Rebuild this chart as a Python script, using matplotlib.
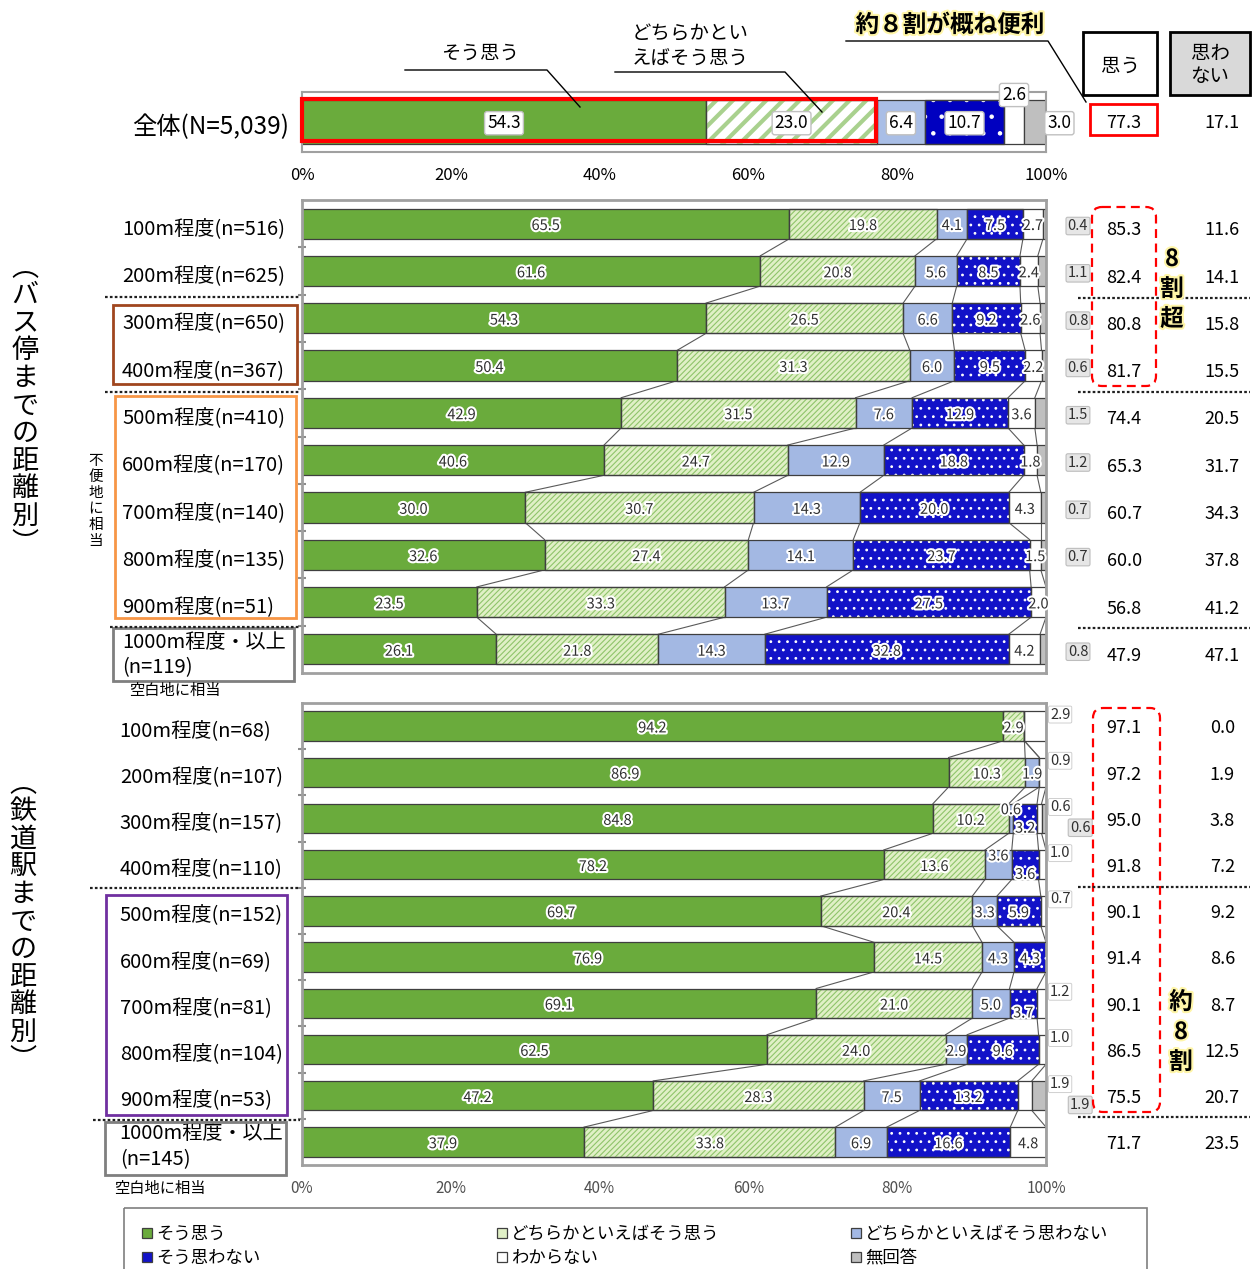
import matplotlib
matplotlib.use('Agg')
import matplotlib.pyplot as plt
import matplotlib.patheffects as pe
from matplotlib.patches import Rectangle, FancyBboxPatch
import numpy as np

plt.rcParams['font.family'] = ['Noto Sans CJK JP', 'DejaVu Sans']

# ---------------- data ----------------
series = ['そう思う', 'どちらかといえばそう思う', 'どちらかといえばそう思わない',
          'そう思わない', 'わからない', '無回答']

total_label = '全体(N=5,039)'
total_values = [54.3, 23.0, 6.4, 10.7, 2.6, 3.0]
total_agree = 77.3
total_disagree = 17.1

bus_labels = ['100m程度(n=516)', '200m程度(n=625)', '300m程度(n=650)', '400m程度(n=367)',
              '500m程度(n=410)', '600m程度(n=170)', '700m程度(n=140)', '800m程度(n=135)',
              '900m程度(n=51)', '1000m程度・以上\n(n=119)']
bus_agree = [65.5, 61.6, 54.3, 50.4, 42.9, 40.6, 30.0, 32.6, 23.5, 26.1]
bus_agree_weak = [19.8, 20.8, 26.5, 31.3, 31.5, 24.7, 30.7, 27.4, 33.3, 21.8]
bus_disagree_weak = [4.1, 5.6, 6.6, 6.0, 7.6, 12.9, 14.3, 14.1, 13.7, 14.3]
bus_disagree = [7.5, 8.5, 9.2, 9.5, 12.9, 18.8, 20.0, 23.7, 27.5, 32.8]
bus_unknown = [2.7, 2.4, 2.6, 2.2, 3.6, 1.8, 4.3, 1.5, 2.0, 4.2]
bus_noanswer = [0.4, 1.1, 0.8, 0.6, 1.5, 1.2, 0.7, 0.7, 0.0, 0.8]
bus_agree_total = [85.3, 82.4, 80.8, 81.7, 74.4, 65.3, 60.7, 60.0, 56.8, 47.9]
bus_disagree_total = [11.6, 14.1, 15.8, 15.5, 20.5, 31.7, 34.3, 37.8, 41.2, 47.1]

rail_labels = ['100m程度(n=68)', '200m程度(n=107)', '300m程度(n=157)', '400m程度(n=110)',
               '500m程度(n=152)', '600m程度(n=69)', '700m程度(n=81)', '800m程度(n=104)',
               '900m程度(n=53)', '1000m程度・以上\n(n=145)']
rail_agree = [94.2, 86.9, 84.8, 78.2, 69.7, 76.9, 69.1, 62.5, 47.2, 37.9]
rail_agree_weak = [2.9, 10.3, 10.2, 13.6, 20.4, 14.5, 21.0, 24.0, 28.3, 33.8]
rail_disagree_weak = [0.0, 1.9, 0.6, 3.6, 3.3, 4.3, 5.0, 2.9, 7.5, 6.9]
rail_disagree = [0.0, 0.0, 3.2, 3.6, 5.9, 4.3, 3.7, 9.6, 13.2, 16.6]
rail_unknown = [2.9, 0.9, 0.6, 1.0, 0.7, 0.0, 1.2, 1.0, 1.9, 4.8]
rail_noanswer = [0.0, 0.0, 0.6, 0.0, 0.0, 0.0, 0.0, 0.0, 1.9, 0.0]
rail_agree_total = [97.1, 97.2, 95.0, 91.8, 90.1, 91.4, 90.1, 86.5, 75.5, 71.7]
rail_disagree_total = [0.0, 1.9, 3.8, 7.2, 9.2, 8.6, 8.7, 12.5, 20.7, 23.5]

xticks = [0, 20, 40, 60, 80, 100]
xticklabels = ['0%', '20%', '40%', '60%', '80%', '100%']

# ---------------- style ----------------
FACE = ['#6AAB3C', '#E0F0C6', '#A3B8E3', '#1212C8', '#FFFFFF', '#BFBFBF']
HATCH = [None, '//////', None, '..', None, None]
HATCHCOL = [None, '#8FC46A', None, '#FFFFFF', None, None]
HATCHLW = [0.8, 0.8, 0.8, 0.8, 0.8, 0.8]
EDGE = '#3F3F3F'
CONN = '#5A5A5A'
W, H = 1252, 1269

fig = plt.figure(figsize=(W / 100, H / 100), dpi=100)


def axrect(l, t, r, b):
    return [l / W, 1 - b / H, (r - l) / W, (b - t) / H]


ax_top = fig.add_axes(axrect(302, 92, 1046, 152))
ax_bus = fig.add_axes(axrect(302, 200, 1046, 673))
ax_rail = fig.add_axes(axrect(302, 703, 1046, 1165))

glow = [pe.withStroke(linewidth=3, foreground='white')]


def draw_stack(ax, cols, h, hatches, faces, hcols, hlws):
    n = len(cols[0])
    ypos = np.arange(n)
    left = np.zeros(n)
    handles = []
    for j, vals in enumerate(cols):
        vals = np.asarray(vals, dtype=float)
        b = ax.barh(ypos, vals, left=left, height=h, color=faces[j], edgecolor=EDGE,
                    linewidth=0.9, zorder=2, label=series[j])
        if hatches[j]:
            plt.rcParams['hatch.linewidth'] = hlws[j]
            ax.barh(ypos, vals, left=left, height=h, facecolor='none',
                    edgecolor=hcols[j], linewidth=0, hatch=hatches[j], zorder=3)
            ax.barh(ypos, vals, left=left, height=h, facecolor='none',
                    edgecolor=EDGE, linewidth=0.9, zorder=4)
        handles.append(b)
        left += vals
    return handles, ypos


def connectors(ax, cols, ypos, h):
    cum = np.cumsum(np.asarray(cols, dtype=float), axis=0)
    for i in range(len(ypos) - 1):
        for k in range(5):
            ax.plot([cum[k, i], cum[k, i + 1]], [ypos[i] + h / 2, ypos[i + 1] - h / 2],
                    color=CONN, lw=0.8, zorder=1)


def style_axes(ax, n):
    ax.set_xlim(0, 100)
    ax.set_ylim(n - 0.5, -0.5)
    for s in ax.spines.values():
        s.set_color('#A0A0A0')
        s.set_linewidth(2)
    ax.set_yticks([])
    if n > 1:
        ax.set_yticks(np.arange(0.5, n - 1, 1), minor=True)
    ax.tick_params(axis='y', which='minor', length=6, direction='inout', color='#8C8C8C', width=1.5)


def row_labels(ax, cols, panel):
    arr = np.asarray(cols, dtype=float)
    n = arr.shape[1]
    for i in range(n):
        left = 0.0
        vals = arr[:, i]
        for j, v in enumerate(vals):
            if v > 0:
                x, y = left + v / 2, i + 0.05
                kw = dict(fontsize=10.5, color='#303030', ha='center', va='center',
                          zorder=6, clip_on=False, path_effects=glow)
                if j == 5:
                    x = 104.3 if panel == 'bus' else 104.6
                    y = i + (0.2 if panel == 'rail' else 0.05)
                    kw['bbox'] = dict(boxstyle='round,pad=0.12', fc='#E6E6E6', ec='#BDBDBD', lw=0.8)
                    kw['path_effects'] = None
                elif panel == 'rail' and j == 4 and v < 3.0:
                    x, y = 101.9, i - 0.25
                    kw['bbox'] = dict(boxstyle='round,pad=0.1', fc='white', ec='#C8C8C8', lw=0.6)
                    kw['path_effects'] = None
                elif panel == 'rail' and j == 3 and v < 4:
                    y = i + 0.22
                elif panel == 'rail' and j == 2 and v < 4 and 0 < vals[3] < 4:
                    y = i - 0.18
                ax.text(x, y, f'{v:.1f}', **kw)
            left += v


def totals(ax, agree, disagree, dy, fs=13):
    for i, (a, d) in enumerate(zip(agree, disagree)):
        ax.text(110.5, i + dy, f'{a:.1f}', ha='center', va='center', fontsize=fs, clip_on=False)
        ax.text(123.7, i + dy, f'{d:.1f}', ha='center', va='center', fontsize=fs, clip_on=False)


# ---------------- top bar ----------------
top_cols = [[v] for v in total_values]
top_hatch = [None, '//', None, '.', None, None]
top_faces = ['#6AAB3C', '#FFFFFF', '#A9BEE6', '#0000C0', '#FFFFFF', '#BFBFBF']
top_hcols = [None, '#A9D18E', None, '#FFFFFF', None, None]
top_hlws = [1.0, 3.0, 1.0, 0.8, 1.0, 1.0]
draw_stack(ax_top, top_cols, 0.72, top_hatch, top_faces, top_hcols, top_hlws)
style_axes(ax_top, 1)
for s in ax_top.spines.values():
    s.set_linewidth(1.5)
ax_top.set_xticks(xticks)
ax_top.set_xticklabels(xticklabels, fontsize=12)
ax_top.tick_params(axis='x', length=0, pad=11)
ax_top.text(-1.75, 0.08, total_label, ha='right', va='center', fontsize=17.5, clip_on=False)
left = 0.0
for j, v in enumerate(total_values):
    x, y = left + v / 2, 0.02
    bb = dict(boxstyle='round,pad=0.15', fc='white', ec='#C0C0C0', lw=1.0)
    if j == 4:
        y = -0.45
    if j == 5:
        x = 101.8
    ax_top.text(x, y, f'{v:.1f}', ha='center', va='center', fontsize=12.5, bbox=bb,
                zorder=6, clip_on=False)
    left += v
ax_top.text(110.5, 0.02, f'{total_agree:.1f}', ha='center', va='center', fontsize=13, clip_on=False)
ax_top.text(123.7, 0.02, f'{total_disagree:.1f}', ha='center', va='center', fontsize=13, clip_on=False)

# ---------------- bus ----------------
bus_cols = [bus_agree, bus_agree_weak, bus_disagree_weak, bus_disagree, bus_unknown, bus_noanswer]
handles, ypb = draw_stack(ax_bus, bus_cols, 0.64, HATCH, FACE, HATCHCOL, HATCHLW)
connectors(ax_bus, bus_cols, ypb, 0.64)
style_axes(ax_bus, len(bus_labels))
ax_bus.set_xticks([])
row_labels(ax_bus, bus_cols, 'bus')
totals(ax_bus, bus_agree_total, bus_disagree_total, 0.14)
for i, lab in enumerate(bus_labels):
    ax_bus.text(-24.2, i + (0.12 if '\n' in lab else 0.1), lab, ha='left', va='center',
                fontsize=14.5, linespacing=1.3, clip_on=False)

# ---------------- rail ----------------
rail_cols = [rail_agree, rail_agree_weak, rail_disagree_weak, rail_disagree, rail_unknown, rail_noanswer]
_, ypr = draw_stack(ax_rail, rail_cols, 0.64, HATCH, FACE, HATCHCOL, HATCHLW)
connectors(ax_rail, rail_cols, ypr, 0.64)
style_axes(ax_rail, len(rail_labels))
ax_rail.set_xticks(xticks)
ax_rail.set_xticklabels(xticklabels, fontsize=11, color='#505050')
ax_rail.tick_params(axis='x', length=0, pad=11)
row_labels(ax_rail, rail_cols, 'rail')
totals(ax_rail, rail_agree_total, rail_disagree_total, 0.05)
for i, lab in enumerate(rail_labels):
    ax_rail.text(-24.5, i + (0.1 if '\n' in lab else 0.09), lab, ha='left', va='center',
                 fontsize=14.5, linespacing=1.3, clip_on=False)

# ---------------- overlay (pixel coordinates) ----------------
ov = fig.add_axes([0, 0, 1, 1])
ov.set_xlim(0, W)
ov.set_ylim(H, 0)
ov.axis('off')


def rect(x0, y0, x1, y1, **kw):
    ov.add_patch(Rectangle((x0, y0), x1 - x0, y1 - y0, **kw))


def hline_dotted(x0, x1, y):
    ov.plot([x0, x1], [y, y], color='#202020', lw=1.6, ls=(0, (1.2, 1.0)))


# top annotations
ov.text(480, 53, 'そう思う', ha='center', va='center', fontsize=14)
ov.plot([405, 547, 580], [70, 70, 107], color='black', lw=1)
ov.text(690, 46, 'どちらかとい\nえばそう思う', ha='center', va='center', fontsize=14, linespacing=1.25)
ov.plot([615, 785, 822], [72, 72, 112], color='black', lw=1)
ov.text(950, 25, '約８割が概ね便利', ha='center', va='center', fontsize=17, fontweight='bold',
        path_effects=[pe.withStroke(linewidth=3, foreground='#FFF6A8')])
ov.plot([846, 1048, 1086], [41, 41, 102], color='black', lw=1)
rect(302, 99, 876, 141, fill=False, ec='#FF0000', lw=3)
rect(1090, 104, 1157, 135, fill=False, ec='#FF0000', lw=2)

# header boxes
rect(1083, 32, 1157, 95, fill=False, ec='black', lw=2)
ov.text(1120, 66, '思う', ha='center', va='center', fontsize=14)
rect(1170, 32, 1250, 95, fc='#D9D9D9', ec='black', lw=2)
ov.text(1210, 65, '思わ\nない', ha='center', va='center', fontsize=14, linespacing=1.15)

# red dashed boxes
ov.add_patch(FancyBboxPatch((1092, 207), 64, 179, boxstyle='round,pad=0,rounding_size=10',
                            fill=False, ec='#FF0000', lw=1.6, ls=(0, (4, 2.5))))
ov.add_patch(FancyBboxPatch((1093, 708), 67, 404, boxstyle='round,pad=0,rounding_size=10',
                            fill=False, ec='#FF0000', lw=1.6, ls=(0, (4, 2.5))))
yel = [pe.withStroke(linewidth=3, foreground='#FFF6A8')]
for ch, yy in zip(['8', '割', '超'], [259, 289, 319]):
    ov.text(1172, yy, ch, ha='center', va='center', fontsize=17, fontweight='bold', path_effects=yel)
for ch, yy in zip(['約', '8', '割'], [1002, 1032, 1062]):
    ov.text(1181, yy, ch, ha='center', va='center', fontsize=17, fontweight='bold', path_effects=yel)

# dotted separators
for y in [298, 392, 628]:
    hline_dotted(1078, 1250, y)
hline_dotted(105, 300, 297)
hline_dotted(105, 300, 392)
hline_dotted(110, 300, 627)
hline_dotted(90, 300, 888)
hline_dotted(93, 300, 1120)
hline_dotted(1078, 1250, 887)
hline_dotted(1078, 1250, 1117)

# left group boxes
rect(113, 305, 297, 384, fill=False, ec='#A0461E', lw=2)
rect(115, 396, 296, 618, fill=False, ec='#F79646', lw=2)
rect(113, 628, 294, 681, fill=False, ec='#7F7F7F', lw=2)
rect(106, 895, 287, 1115, fill=False, ec='#7030A0', lw=2)
rect(105, 1122, 286, 1175, fill=False, ec='#7F7F7F', lw=2)

ov.text(175, 690, '空白地に相当', ha='center', va='center', fontsize=11)
ov.text(160, 1188, '空白地に相当', ha='center', va='center', fontsize=11)
for k, ch in enumerate('不便地に相当'):
    ov.text(96, 461 + k * 16, ch, ha='center', va='center', fontsize=10.5)

# vertical titles
for k, ch in enumerate('︵バス停までの距離別︶'):
    ov.text(25, 268 + k * 27.6, ch, ha='center', va='center', fontsize=19.5)
for k, ch in enumerate('︵鉄道駅までの距離別︶'):
    ov.text(23, 784 + k * 27.6, ch, ha='center', va='center', fontsize=19.5)

# legend
rect(124, 1208, 1147, 1275, fill=False, ec='#7F7F7F', lw=1.2)
order = [[0, 3], [1, 4], [2, 5]]
xs = [142, 497, 851]
for col, x in zip(order, xs):
    fig.legend([handles[k] for k in col], [series[k] for k in col], loc='upper left',
               bbox_to_anchor=(x / W, 1 - 1225 / H), frameon=False, fontsize=12.5,
               handlelength=0.55, handleheight=0.55, handletextpad=0.25, labelspacing=0.35,
               borderpad=0, borderaxespad=0)

fig.savefig('out.png', dpi=100)
